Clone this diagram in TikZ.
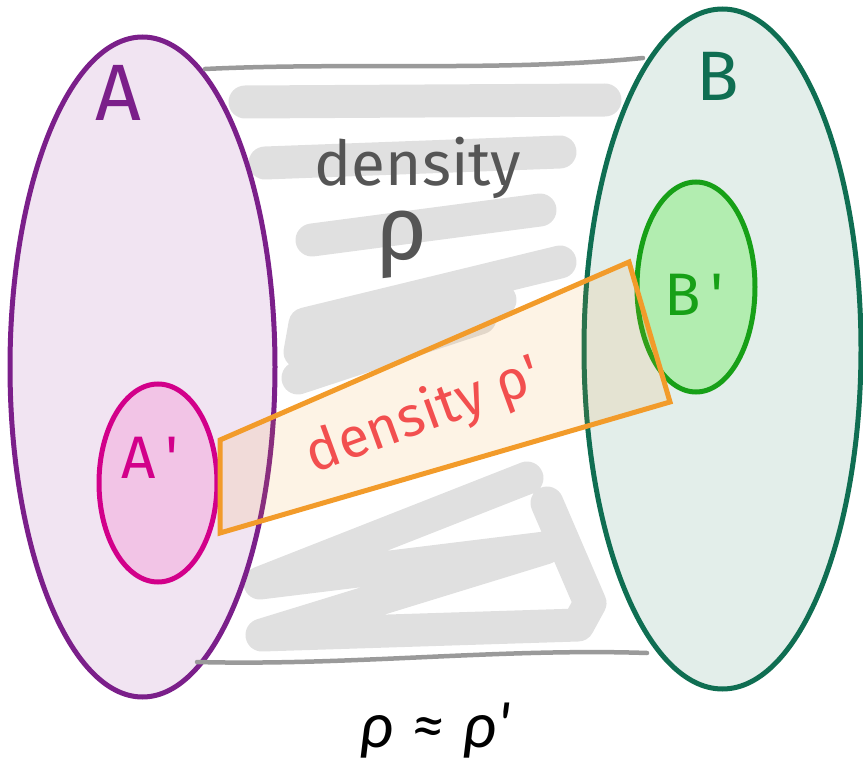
\documentclass[tikz,border=0pt]{standalone}
\usepackage{fontspec}
\setmainfont{Fira Sans}
\newfontfamily\calib{Carlito}
\definecolor{apurple}{HTML}{7B1F8A}
\definecolor{afill}{HTML}{F1E4F2}
\definecolor{bgreen}{HTML}{0F6E52}
\definecolor{bfill}{HTML}{E3EEEA}
\definecolor{apink}{HTML}{D2008A}
\definecolor{apfill}{HTML}{F2C4E6}
\definecolor{bpgreen}{HTML}{17A017}
\definecolor{bpfill}{HTML}{B2EDB0}
\definecolor{orng}{HTML}{F29B2A}
\definecolor{redtxt}{HTML}{F24F4F}
\definecolor{scrib}{HTML}{E0E0E0}
\definecolor{gline}{HTML}{9A9A9A}
\definecolor{gtxt}{HTML}{555555}
\begin{document}
\begin{tikzpicture}[x=1pt,y=-1pt,
  scribble/.style={draw=scrib,line width=33pt,line cap=round,line join=round},
  edge/.style={draw=gline,line width=4.5pt,line cap=round},
  big/.style={line width=5pt},
  lbl/.style={inner sep=0pt,font=\fontsize{#1}{#1}\selectfont}]
\useasboundingbox (0,0) rectangle (863,765);
% gray scribbles
\path[scribble] (245,102) -- (605,100);
\path[scribble] (265,163) -- (560,152);
\path[scribble] (312,240) -- (540,210);
\path[scribble] (560,262) -- (305,324) -- (300,352) -- (500,300) -- (298,378) -- (480,318);
\path[scribble] (527,478) -- (260,583) -- (545,548) -- (262,635) -- (578,625) -- (590,603) -- (547,503);
% big sets
\coordinate (acen) at (142.5,367);
\coordinate (bcen) at (722.5,349);
\draw[big,draw=apurple,fill=afill] (acen) ellipse [x radius=132.5,y radius=330];
\draw[big,draw=bgreen,fill=bfill] (bcen) ellipse [x radius=138.5,y radius=340];
% boundary lines
\coordinate (tl) at (205,69); \coordinate (tr) at (643,58);
\coordinate (bl) at (197,662); \coordinate (br) at (647,653);
\draw[edge] (tl) .. controls (350,62) and (500,72) .. (tr);
\draw[edge] (bl) .. controls (350,666) and (500,648) .. (br);
% subsets
\draw[big,draw=apink,fill=apfill] (158,483) ellipse [x radius=59,y radius=99];
\draw[big,draw=bpgreen,fill=bpfill] (696,287) ellipse [x radius=59,y radius=105];
% band
\coordinate (p1) at (220,440); \coordinate (p2) at (629,262);
\coordinate (p3) at (670,402); \coordinate (p4) at (220,533);
\draw[big,draw=orng,fill=orng,fill opacity=0.12,line join=miter] (p1) -- (p2) -- (p3) -- (p4) -- cycle;
% labels
\node[lbl=80,text=apurple] (la) at (118,93) {A};
\node[lbl=70,text=bgreen] (lb) at (718,76) {B};
\node[lbl=60,text=apink] (lap) at (150,458) {A\,\textquotesingle};
\node[lbl=60,text=bpgreen] (lbp) at (694,295) {B\,\textquotesingle};
\node[lbl=62,text=gtxt] (dens) at (418,168) {density};
\node[lbl=90,text=gtxt] (rho) at (402,245) {ρ};
\node[lbl=56,text=redtxt,rotate=20] (dens2) at (424,416) {density ρ\textquotesingle};
\node[lbl=66,anchor=base] (eq) at (435,747) {\calib\itshape ρ\;≈\;ρ\textquotesingle};
\end{tikzpicture}
\end{document}
